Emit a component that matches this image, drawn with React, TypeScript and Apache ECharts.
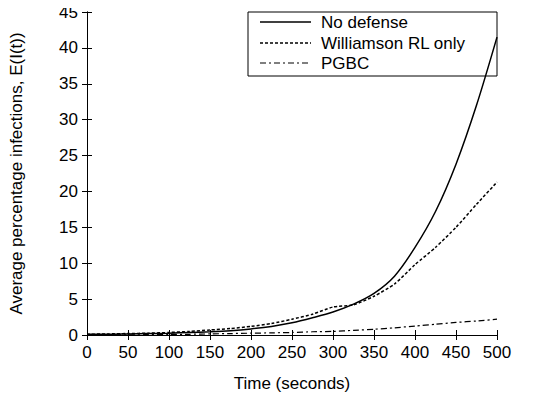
import React, { useEffect, useRef } from "react";
import * as echarts from "echarts";

const timeSec = [0, 25, 50, 75, 100, 125, 150, 175, 200, 225, 250, 275, 300, 325, 350, 375, 400, 425, 450, 475, 500];
const noDefense = [0.1, 0.1, 0.15, 0.2, 0.25, 0.35, 0.45, 0.6, 0.85, 1.2, 1.7, 2.4, 3.2, 4.3, 5.8, 8.2, 12.2, 17.2, 23.8, 32.0, 41.5];
const williamson = [0.1, 0.15, 0.2, 0.25, 0.35, 0.5, 0.7, 0.9, 1.2, 1.6, 2.2, 2.9, 3.9, 4.2, 5.4, 7.1, 9.8, 12.2, 15.0, 18.2, 21.3];
const pgbc = [0, 0, 0.02, 0.05, 0.08, 0.1, 0.15, 0.2, 0.25, 0.3, 0.35, 0.45, 0.5, 0.65, 0.8, 1.0, 1.25, 1.5, 1.75, 1.95, 2.2];
const seriesNames = ["No defense", "Williamson RL only", "PGBC"];

const FONT = "Liberation Sans, Arial, sans-serif";
const DASHES: (number[] | null)[] = [null, [3, 2], [6, 3, 2, 3]];
const WIDTHS = [1.5, 1.5, 1.2];

export default function App() {
  const ref = useRef<HTMLDivElement>(null);
  useEffect(() => {
    if (!ref.current) return;
    const chart = echarts.init(ref.current, undefined, { renderer: "svg" });
    const pair = (vals: number[]) => timeSec.map((t, i) => [t, vals[i]]);
    const axisCommon = {
      type: "value" as const,
      axisLine: { show: true, lineStyle: { color: "#000", width: 1 } },
      axisTick: { show: true, inside: true, length: 5, lineStyle: { color: "#000" } },
      splitLine: { show: false },
    };
    const rowY = [22, 43, 63];
    const legendChildren: any[] = [
      {
        type: "rect",
        shape: { x: 248, y: 12, width: 249, height: 64 },
        style: { fill: "#fff", stroke: "#000", lineWidth: 1 },
      },
    ];
    seriesNames.forEach((name, i) => {
      legendChildren.push({
        type: "line",
        shape: { x1: 260, y1: rowY[i], x2: 311, y2: rowY[i] },
        style: { stroke: "#000", lineWidth: WIDTHS[i], lineDash: DASHES[i] || undefined },
      });
      legendChildren.push({
        type: "text",
        x: 321,
        y: rowY[i],
        style: { text: name, fill: "#000", fontFamily: FONT, fontSize: 17, verticalAlign: "middle", align: "left" },
      });
    });
    chart.setOption({
      animation: false,
      backgroundColor: "#fff",
      textStyle: { fontFamily: FONT },
      grid: { left: 87, right: 63, top: 12, bottom: 64, containLabel: false, outerBoundsMode: "none" },
      graphic: [{ type: "group", z: 100, children: legendChildren }],
      xAxis: [
        {
          ...axisCommon,
          min: 0,
          max: 500,
          interval: 50,
          name: "Time (seconds)",
          nameLocation: "middle",
          nameGap: 40,
          nameTextStyle: { fontFamily: FONT, fontSize: 17, color: "#000" },
          axisLabel: { fontFamily: FONT, fontSize: 17, color: "#000", margin: 9 },
        },
        {
          ...axisCommon,
          position: "top",
          min: 0,
          max: 500,
          interval: 50,
          axisLabel: { show: false },
        },
      ],
      yAxis: [
        {
          ...axisCommon,
          min: 0,
          max: 45,
          interval: 5,
          name: "Average percentage infections, E(I(t))",
          nameLocation: "middle",
          nameGap: 62,
          nameTextStyle: { fontFamily: FONT, fontSize: 17, color: "#000" },
          axisLabel: { fontFamily: FONT, fontSize: 17, color: "#000", margin: 9 },
        },
        {
          ...axisCommon,
          position: "right",
          min: 0,
          max: 45,
          interval: 5,
          axisLabel: { show: false },
        },
      ],
      series: seriesNames.map((name, i) => ({
        name,
        type: "line",
        data: pair([noDefense, williamson, pgbc][i]),
        smooth: i === 0 ? 0.3 : 0.2,
        symbol: "none",
        lineStyle: { color: "#000", width: WIDTHS[i], type: DASHES[i] || "solid" },
        itemStyle: { color: "#000" },
      })),
    });
    return () => chart.dispose();
  }, []);
  return <div ref={ref} style={{ width: 560, height: 399, margin: "-8px 0 0 -8px" }} />;
}
